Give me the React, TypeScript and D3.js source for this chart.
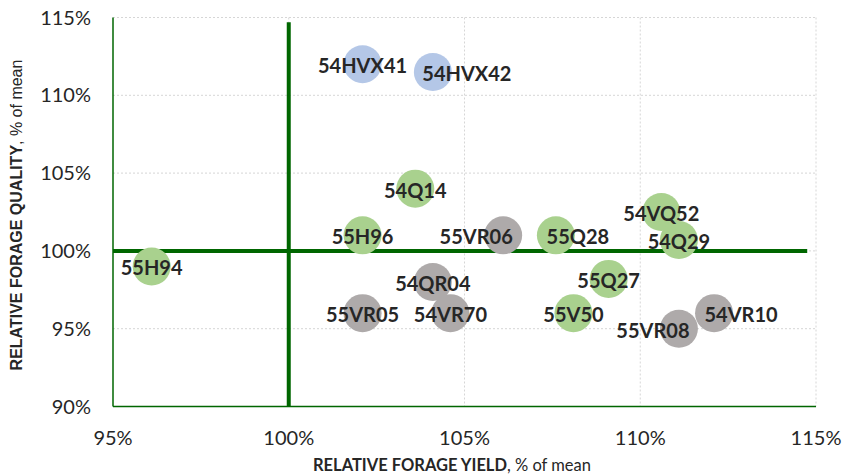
import * as React from "react";
import * as d3 from "d3";

// hybrid names, yield % of mean, quality % of mean, group
const hybrids = ["55H94", "55H96", "55VR06", "55Q28", "54QR04", "55VR05", "54VR70", "55V50", "55Q27", "54VQ52", "54Q29", "55VR08", "54VR10", "54HVX41", "54HVX42", "54Q14"];
const yieldPct = [96.1, 102.1, 106.1, 107.6, 104.1, 102.1, 104.6, 108.1, 109.1, 110.6, 111.1, 111.1, 112.1, 102.1, 104.1, 103.6];
const qualityPct = [99, 101, 101, 101, 98, 96, 96, 96, 98.2, 102.5, 100.7, 95, 96, 112, 111.5, 104];
const groups = ["G", "G", "R", "G", "R", "R", "R", "G", "G", "G", "G", "R", "R", "B", "B", "G"];

const xTicks = [95, 100, 105, 110, 115];
const yTicks = [90, 95, 100, 105, 110, 115];

// the two thick "mean" lines, as drawn in the source sheet
const meanLineX = [100, 90, 114.7]; // x, y from, y to
const meanLineY = [100, 95, 114.75]; // y, x from, x to

const groupColor: any = { G: "#a9d18e", R: "#aeaaaa", B: "#b4c7e7" };

// manual label nudges (px), like the moved labels in the sheet
const labelShift: any = { "55VR06": -27, "55Q28": 22, "55VR08": -26, "54VR10": 27, "54HVX42": 34 };

export default function App() {
    const width = 843;
    const height = 475;
    const left = 113, right = 816, top = 17.5, bottom = 406.5;

    const x = d3.scaleLinear().domain([95, 115]).range([left, right]);
    const y = d3.scaleLinear().domain([90, 115]).range([bottom, top]);

    const green = "#006600";
    const textColor = "#262626";
    const r = 19;

    return (
        <svg width={width} height={height} style={{ position: "absolute", left: 0, top: 0, background: "#fff" }}>
            {/* gridlines */}
            {xTicks.filter(t => t > 95).map(t => (
                <line key={"gx" + t} x1={x(t)} x2={x(t)} y1={y(115)} y2={y(90)} stroke="#d6d6d6" strokeWidth={1} strokeDasharray="2,2" />
            ))}
            {yTicks.filter(t => t > 90).map(t => (
                <line key={"gy" + t} x1={x(95)} x2={x(115)} y1={y(t)} y2={y(t)} stroke="#d6d6d6" strokeWidth={1} strokeDasharray="2,2" />
            ))}

            {/* axis lines */}
            <line x1={x(95)} x2={x(95)} y1={y(115)} y2={y(90)} stroke={green} strokeWidth={1.5} />
            <line x1={x(95)} x2={x(115)} y1={y(90)} y2={y(90)} stroke={green} strokeWidth={1.5} />

            {/* mean lines */}
            <line x1={x(meanLineX[0])} x2={x(meanLineX[0])} y1={y(meanLineX[1])} y2={y(meanLineX[2])} stroke={green} strokeWidth={4} />
            <line x1={x(meanLineY[1])} x2={x(meanLineY[2])} y1={y(meanLineY[0])} y2={y(meanLineY[0])} stroke={green} strokeWidth={4} />

            {/* bubbles */}
            {hybrids.map((h, i) => (
                <circle key={"c" + h} cx={x(yieldPct[i])} cy={y(qualityPct[i])} r={r} fill={groupColor[groups[i]]} />
            ))}
            {hybrids.map((h, i) => (
                <text key={"t" + h} x={x(yieldPct[i]) + (labelShift[h] || 0)} y={y(qualityPct[i]) + 9}
                    textAnchor="middle" fontFamily="Lato" fontWeight="bold" fontSize={20} fill={textColor}>{h}</text>
            ))}

            {/* tick labels */}
            {yTicks.map(t => (
                <text key={"yl" + t} x={91} y={y(t) + 7} textAnchor="end" fontFamily="Lato" fontSize={20} fill={textColor}>{t}%</text>
            ))}
            {xTicks.map(t => (
                <text key={"xl" + t} x={x(t)} y={445} textAnchor="middle" fontFamily="Lato" fontSize={20} fill={textColor}>{t}%</text>
            ))}

            {/* axis titles */}
            <text x={313} y={471} fontFamily="Lato" fontSize={16.5} fill={textColor}>
                <tspan fontWeight="bold">RELATIVE FORAGE YIELD</tspan>, % of mean
            </text>
            <text transform="translate(22, 215) rotate(-90)" textAnchor="middle" fontFamily="Liberation Sans" fontSize={16} fill={textColor}>
                <tspan fontWeight="bold">RELATIVE FORAGE QUALITY</tspan>, % of mean
            </text>
        </svg>
    );
}
